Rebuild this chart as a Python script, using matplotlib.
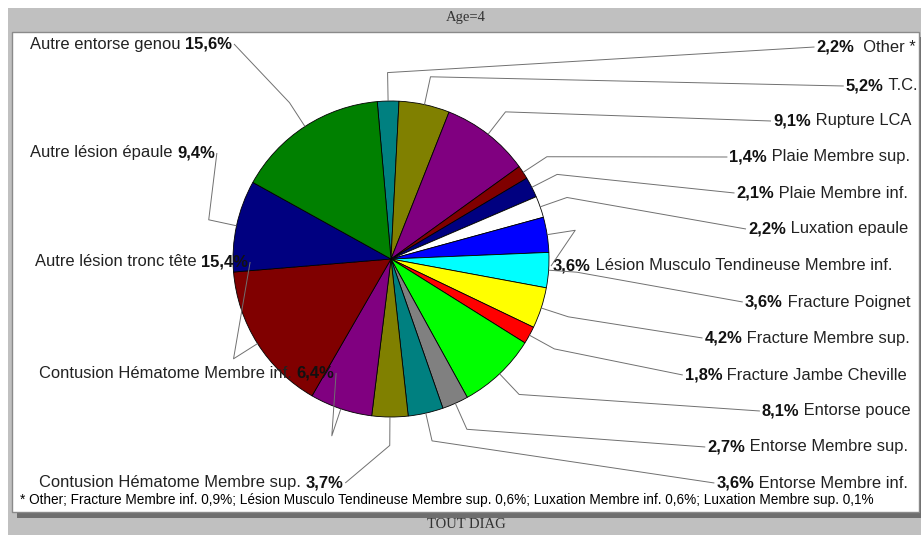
import matplotlib
matplotlib.use('Agg')
import matplotlib.pyplot as plt
import numpy as np
from matplotlib.patches import Rectangle

# ---------------- data ----------------
categories = ["Other *", "T.C.", "Rupture LCA", "Plaie Membre sup.", "Plaie Membre inf.",
              "Luxation epaule", "Lésion Musculo Tendineuse Membre inf.", "Fracture Poignet",
              "Fracture Membre sup.", "Fracture Jambe Cheville", "Entorse pouce",
              "Entorse Membre sup.", "Entorse Membre inf.", "Contusion Hématome Membre sup.",
              "Contusion Hématome Membre inf.", "Autre lésion tronc tête", "Autre lésion épaule",
              "Autre entorse genou"]
values = [2.2, 5.2, 9.1, 1.4, 2.1, 2.2, 3.6, 3.6, 4.2, 1.8, 8.1, 2.7, 3.6, 3.7, 6.4, 15.4, 9.4, 15.6]
colors = ["#008080", "#808000", "#800080", "#800000", "#000080", "#ffffff", "#0000ff", "#00ffff",
          "#ffff00", "#ff0000", "#00ff00", "#808080", "#008080", "#808000", "#800080", "#800000",
          "#000080", "#008000"]
title = "Age=4"
bottom_title = "TOUT DIAG"
footnote = ("* Other; Fracture Membre inf. 0,9%; Lésion Musculo Tendineuse Membre sup. 0,6%; "
            "Luxation Membre inf. 0,6%; Luxation Membre sup. 0,1%")

# label layout: (mode, x, y) in image pixels; 'r' = right aligned pct first,
# 'l' = left aligned pct first, 'L' = left aligned name first
label_layout = [('r', 916, 47), ('r', 917, 86), ('r', 911, 121), ('r', 910, 157), ('r', 908, 193),
                ('r', 908, 229), ('l', 553, 266), ('r', 910, 302), ('r', 910, 338), ('r', 907, 375),
                ('r', 911, 411), ('r', 908, 447), ('r', 908, 483),
                ('L', 39, 483), ('L', 39, 373), ('L', 35, 262), ('L', 30, 153), ('L', 30, 44)]

W, H = 921, 535
FONT = ['Liberation Sans', 'DejaVu Sans']
FS = 11.9

fig = plt.figure(figsize=(W / 100, H / 100), dpi=100)
fig.patch.set_facecolor('white')
ax = fig.add_axes([0, 0, 1, 1])


def Y(y):
    return H - y


# frame
ax.add_patch(Rectangle((8, Y(535)), W - 8, 535 - 8, facecolor='#c0c0c0', edgecolor='none', zorder=0))
ax.add_patch(Rectangle((17, Y(518)), W - 17, 518 - 37, facecolor='#6e6e6e', edgecolor='none', zorder=0))
ax.add_patch(Rectangle((12, Y(512)), 919 - 12, 512 - 32, facecolor='white', edgecolor='#8a8a8a',
                       lw=1, zorder=0))

cx, cy, R = 391, Y(259), 158
wedges, _ = ax.pie(values, colors=colors, startangle=95, counterclock=False, center=(cx, cy),
                   radius=R, wedgeprops=dict(edgecolor='black', linewidth=0.6))
ax.set_xlim(0, W)
ax.set_ylim(0, H)
ax.set_aspect('auto')
ax.axis('off')

ax.text(466, Y(18), title, ha='center', va='center', fontsize=10.5,
        family=['Liberation Serif', 'DejaVu Serif'], color='#333333')
ax.text(466, Y(525), bottom_title, ha='center', va='center', fontsize=10.5,
        family=['Liberation Serif', 'DejaVu Serif'], color='#333333')
ax.text(20, Y(500), footnote, ha='left', va='center', fontsize=9.8,
        family=['Liberation Sans', 'DejaVu Sans'], color='black')


def pct_str(v):
    return f"{v:.1f}%".replace('.', ',')


texts = []
for name, v, (mode, x, y) in zip(categories, values, label_layout):
    p = pct_str(v)
    if mode == 'r':
        sep = '  ' if name.startswith('Other') else ' '
        t_name = ax.text(x, Y(y), sep + name, ha='right', va='center', fontsize=FS, family=FONT,
                         color='#222222')
        t_pct = ax.annotate(p, xy=(0, 0.5), xycoords=t_name, ha='right', va='center', fontsize=FS,
                            family=FONT, fontweight='bold', color='#111111')
        texts.append(('left', t_pct))
    elif mode == 'l':
        t_pct = ax.text(x, Y(y), p, ha='left', va='center', fontsize=FS, family=FONT,
                        fontweight='bold', color='#111111')
        ax.annotate(' ' + name, xy=(1, 0.5), xycoords=t_pct, ha='left', va='center', fontsize=FS,
                    family=FONT, color='#222222')
        texts.append(('left', t_pct))
    else:
        t_name = ax.text(x, Y(y), name + ' ', ha='left', va='center', fontsize=FS, family=FONT,
                         color='#222222')
        t_pct = ax.annotate(p, xy=(1, 0.5), xycoords=t_name, ha='left', va='center', fontsize=FS,
                            family=FONT, fontweight='bold', color='#111111')
        texts.append(('right', t_pct))

fig.canvas.draw()
inv = ax.transData.inverted()
for w, (side, t) in zip(wedges, texts):
    mid = np.deg2rad((w.theta1 + w.theta2) / 2)
    ax_pt = (cx + R * np.cos(mid), cy + R * np.sin(mid))
    el_pt = (cx + 1.18 * R * np.cos(mid), cy + 1.18 * R * np.sin(mid))
    bb = t.get_window_extent().transformed(inv)
    ym = (bb.y0 + bb.y1) / 2
    if side == 'left':
        lab_pt = (bb.x0 - 2, ym)
    else:
        lab_pt = (bb.x1 + 2, ym)
    ax.plot([ax_pt[0], el_pt[0], lab_pt[0]], [ax_pt[1], el_pt[1], lab_pt[1]],
            color='#707070', lw=0.7, zorder=5, solid_capstyle='butt')

fig.savefig('out.png', dpi=100, facecolor='white')
